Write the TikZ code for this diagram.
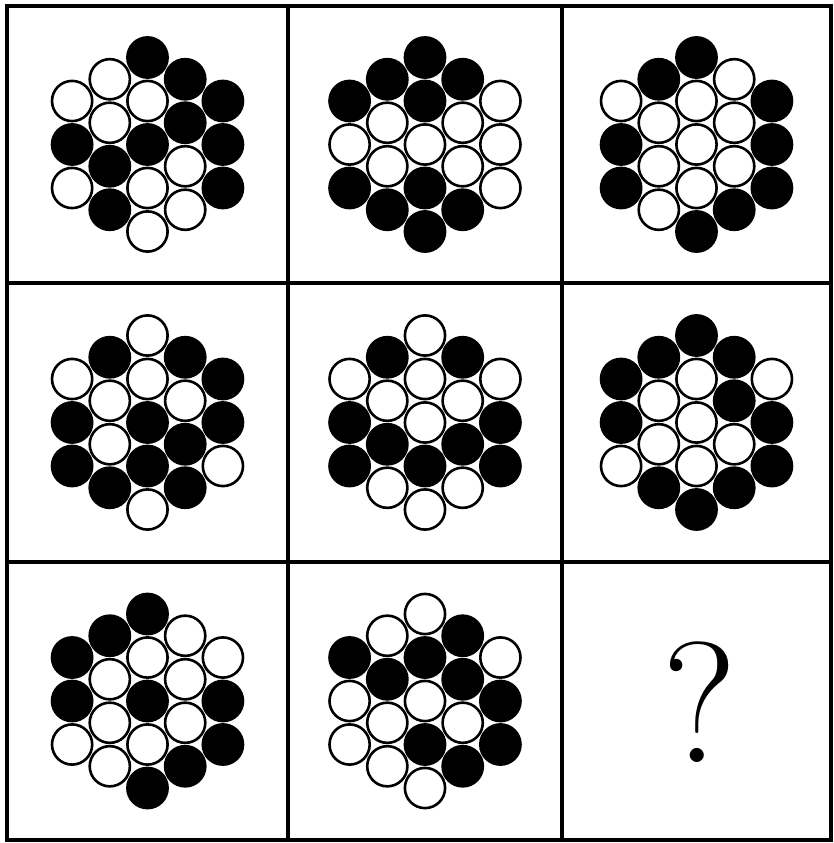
\documentclass[tikz,border=0pt]{standalone}
\usepackage{tikz}
\usetikzlibrary{positioning}

% cella esagonale: 19 cerchi letti per colonne, dall'alto in basso
\newcommand{\hexcell}[2]{%
  \foreach \s [count=\i from 0] in {#2} {
    \pgfmathsetmacro{\hx}{{-2,-2,-2,-1,-1,-1,-1,0,0,0,0,0,1,1,1,1,2,2,2}[\i]}
    \pgfmathsetmacro{\hy}{{-1,0,1,-1.5,-0.5,0.5,1.5,-2,-1,0,1,2,-1.5,-0.5,0.5,1.5,-1,0,1}[\i]}
    \node[\s] (#1-\i) at ([shift={(\hx*37.7,\hy*43.5)}]#1) {};
  }}

\begin{document}
\begin{tikzpicture}[
  x=1pt, y=-1pt,
  ball/.style={circle, draw=black, line width=2.6pt, minimum size=40.2pt, inner sep=0pt},
  B/.style={ball, fill=black},
  W/.style={ball, fill=white},
  frame/.style={draw=black, line width=3.5pt},
  qmark/.style={font=\fontsize{172}{172}\selectfont, inner sep=0pt}
]
\useasboundingbox (0,0) rectangle (833,843);

  % griglia 3x3
\coordinate (nw) at (7,6);
\coordinate (se) at (831,840);
\draw[frame] (nw) rectangle (se);
\draw[frame] (288,6) -- (288,840);
\draw[frame] (562,6) -- (562,840);
\draw[frame] (7,283) -- (831,283);
\draw[frame] (7,562) -- (831,562);

  % centri delle celle
\coordinate (c11) at (147.5,144.5);
\coordinate (c12) at (425,144.5);
\coordinate (c13) at (696.5,144.5);
\coordinate (c21) at (147.5,422.5);
\coordinate (c22) at (425,422.5);
\coordinate (c23) at (696.5,422.5);
\coordinate (c31) at (147.5,701);
\coordinate (c32) at (425,701);
\coordinate (c33) at (700,702);

  % prima riga
\hexcell{c11}{W,B,W, W,W,B,B, B,W,B,W,W, B,B,W,W, B,B,B}
\hexcell{c12}{B,W,B, B,W,W,B, B,B,W,B,B, B,W,W,B, W,W,W}
\hexcell{c13}{W,B,B, B,W,W,W, B,W,W,W,B, W,W,W,B, B,B,B}

  % seconda riga
\hexcell{c21}{W,B,B, B,W,W,B, W,W,B,B,W, B,W,B,B, B,B,W}
\hexcell{c22}{W,B,B, B,W,B,W, W,W,W,B,W, B,W,B,W, W,B,B}
\hexcell{c23}{B,B,W, B,W,W,B, B,W,W,W,B, B,B,W,B, W,B,B}

  % terza riga
\hexcell{c31}{B,B,W, B,W,W,W, B,W,B,W,B, W,W,W,B, W,B,B}
\hexcell{c32}{B,W,W, W,B,W,W, W,B,W,B,W, B,B,W,B, W,B,B}
\node[qmark] (quest) at (c33) {?};

\end{tikzpicture}
\end{document}
